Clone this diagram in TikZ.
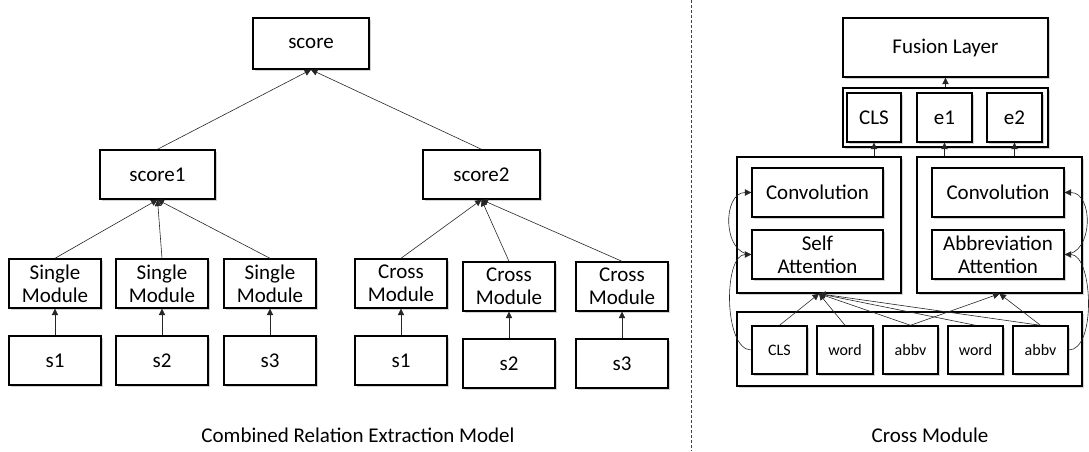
\documentclass[tikz,border=0pt]{standalone}
\usepackage{fontspec}
\setmainfont{Carlito}
\usetikzlibrary{arrows.meta,shadows}
\tikzset{
  modbox/.style={
    draw=black,
    line width=0.7pt,
    fill=white,
    inner sep=0pt,
    align=center,
    font=\fontsize{10.5}{11.7}\selectfont,
    drop shadow={shadow xshift=0.9pt,shadow yshift=-0.9pt,opacity=0.35}
  },
  tokbox/.style={modbox, font=\fontsize{8}{9.6}\selectfont},
  flow/.style={-{Triangle[length=3.2pt,width=3.2pt]}, line width=0.3pt, draw=black!85}
}

\begin{document}
\begin{tikzpicture}[x=0.5pt,y=-0.5pt]
  \useasboundingbox (0,0) rectangle (1089,451);

  % combined model
  \node[modbox, minimum width=58pt, minimum height=25.5pt] (score) at (311,43.5) {score};
  \node[modbox, minimum width=57.5pt, minimum height=24.5pt] (score1) at (157.5,174.5) {score1};
  \node[modbox, minimum width=58.5pt, minimum height=24.5pt] (score2) at (481.5,174.5) {score2};
  \draw[flow] (score1.north) -- (score.south);
  \draw[flow] (score2.north) -- (score.south);

  \foreach \i/\x in {1/55,2/162,3/270} {
    \node[modbox, minimum width=46pt, minimum height=24.5pt] (sm\i) at (\x,283.5) {Single\\Module};
    \node[modbox, minimum width=46pt, minimum height=24.5pt] (ls\i) at (\x,360.5) {s\i};
    \draw[flow] (ls\i.north) -- (sm\i.south);
    \draw[flow] (sm\i.north) -- (score1.south);
  }
  \foreach \i/\x/\y in {1/401/283.5,2/509/286.5,3/622/286.5} {
    \node[modbox, minimum width=46pt, minimum height=24.5pt] (cm\i) at (\x,\y) {Cross\\Module};
    \node[modbox, minimum width=46pt, minimum height=24.5pt] (rs\i) at (\x,\y+77) {s\i};
    \draw[flow] (rs\i.north) -- (cm\i.south);
    \draw[flow] (cm\i.north) -- (score2.south);
  }
  \node[font=\fontsize{10.5}{12}\selectfont] (capl) at (358,435) {Combined Relation Extraction Model};

  \draw[line width=0.4pt, black!75, dash pattern=on 1.5pt off 1pt] (691,0) -- (691,451);

  % cross module
  \node[modbox, minimum width=102.5pt, minimum height=29.5pt] (fusion) at (945.5,47.5) {Fusion Layer};
  \node[modbox, minimum width=102.5pt, minimum height=29.5pt] (ents) at (945.5,117.5) {};
  \node[modbox, minimum width=27pt, minimum height=24.5pt] (ecls) at (874,117.5) {CLS};
  \node[modbox, minimum width=27.5pt, minimum height=24.5pt] (e1) at (944.5,117.5) {e1};
  \node[modbox, minimum width=27.5pt, minimum height=24.5pt] (e2) at (1014.5,117.5) {e2};
  \draw[flow] (ents.north) -- (fusion.south);

  \node[modbox, minimum width=82pt, minimum height=68pt] (lgrp) at (819,225) {};
  \node[modbox, minimum width=82.5pt, minimum height=68pt] (rgrp) at (999.5,225) {};
  \node[modbox, minimum width=65.5pt, minimum height=24.5pt] (conv1) at (817.5,192.5) {Convolution};
  \node[modbox, minimum width=65.5pt, minimum height=24.5pt] (selfatt) at (817.5,254.5) {Self\\Attention};
  \node[modbox, minimum width=66pt, minimum height=24.5pt] (conv2) at (998,192.5) {Convolution};
  \node[modbox, minimum width=66pt, minimum height=24.5pt] (abbatt) at (998,254.5) {Abbreviation\\Attention};
  \draw[flow] (lgrp.north -| ecls) -- (ecls.south);
  \draw[flow] (rgrp.north -| e1) -- (e1.south);
  \draw[flow] (rgrp.north -| e2) -- (e2.south);

  \node[modbox, minimum width=172.5pt, minimum height=37pt] (toks) at (909.5,349) {};
  \node[tokbox, minimum width=27.5pt, minimum height=24pt] (tcls) at (779.5,350) {CLS};
  \node[tokbox, minimum width=28pt, minimum height=24pt] (tword1) at (845,350) {word};
  \node[tokbox, minimum width=27.5pt, minimum height=24pt] (tabbv1) at (910.5,350) {abbv};
  \node[tokbox, minimum width=27.5pt, minimum height=24pt] (tword2) at (975.5,350) {word};
  \node[tokbox, minimum width=27.5pt, minimum height=24pt] (tabbv2) at (1040.5,350) {abbv};

  \draw[flow] (tcls.north) -- (lgrp.south);
  \draw[flow] (tword1.north) -- (lgrp.south);
  \draw[flow] (tabbv1.north) -- (lgrp.south);
  \draw[flow] (tword2.north) -- (lgrp.south);
  \draw[flow] (tabbv2.north) -- (lgrp.south);
  \draw[flow] (tabbv1.north) -- (rgrp.south);
  \draw[flow] (tabbv2.north) -- (rgrp.south);

  \draw[flow] (tcls.west) to[out=180,in=180,looseness=0.75] (selfatt.west);
  \draw[flow] (selfatt.west) to[out=180,in=180,looseness=1.2] (conv1.west);
  \draw[flow] (tabbv2.east) to[out=0,in=0,looseness=0.75] (abbatt.east);
  \draw[flow] (abbatt.east) to[out=0,in=0,looseness=1.2] (conv2.east);

  \node[font=\fontsize{10.5}{12}\selectfont] (capr) at (930,435) {Cross Module};
\end{tikzpicture}
\end{document}
